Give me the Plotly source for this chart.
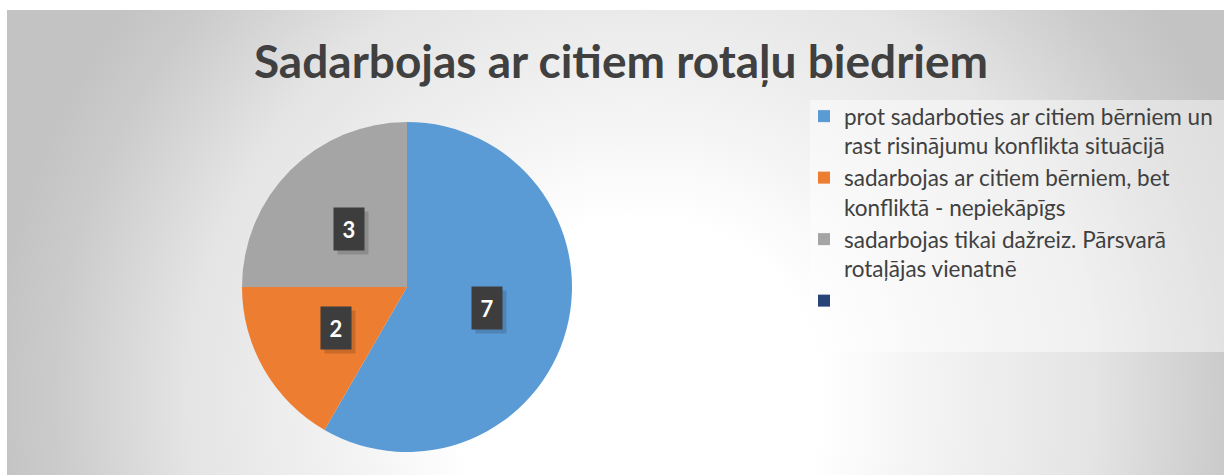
import math
import plotly.graph_objects as go

# data
categories = [
    "prot sadarboties ar citiem bērniem un<br>rast risinājumu konflikta situācijā",
    "sadarbojas ar citiem bērniem, bet<br>konfliktā - nepiekāpīgs",
    "sadarbojas tikai dažreiz. Pārsvarā<br>rotaļājas vienatnē",
    " ",
]
counts = [7, 2, 3, 0]
value_labels = ["7", "2", "3", ""]
colors = ["#5B9BD5", "#ED7D31", "#A5A5A5", "#264478"]

W, H = 1224, 475
FONT = "Lato"
TXT = "#404040"

# pie geometry (pixels)
cx, cy, R = 407, 287, 165

fig = go.Figure()

# radial gradient background of the chart area (centre low and right of middle)
gx, gy, gr = 640, 400, 650
fig.add_trace(go.Scatter(
    x=[gx - gr, gx + gr, gx + gr, gx - gr, gx - gr],
    y=[gy - gr, gy - gr, gy + gr, gy + gr, gy - gr],
    mode="lines", fill="toself", line=dict(width=0),
    fillgradient=dict(type="radial", colorscale=[
        [0, "#ffffff"], [0.28, "#ffffff"], [0.45, "#f3f3f3"],
        [0.7, "#e4e4e4"], [0.9, "#cbcbcb"], [1, "#c3c3c3"]]),
    hoverinfo="skip", showlegend=False,
))

fig.add_trace(go.Pie(
    labels=categories,
    values=counts,
    sort=False, direction="clockwise", rotation=0,
    marker=dict(colors=colors, line=dict(width=0)),
    textinfo="none",
    domain=dict(x=[(cx - R) / W, (cx + R) / W], y=[1 - (cy + R) / H, 1 - (cy - R) / H]),
))

# data labels in dark boxes, placed at half radius on each slice's mid angle
total = sum(counts)
cum = 0
for v, lab in zip(counts, value_labels):
    mid = (cum + v / 2) / total * 2 * math.pi
    cum += v
    if not lab:
        continue
    lx = cx + 0.5 * R * math.sin(mid)
    ly = cy - 0.5 * R * math.cos(mid)
    fig.add_annotation(x=lx + 4, y=ly + 4, xref="x", yref="y", text=" ", showarrow=False,
                       width=24, height=36, borderpad=3, bgcolor="rgba(0,0,0,0.15)")
    fig.add_annotation(x=lx, y=ly, xref="x", yref="y", text="<b>%s</b>" % lab, showarrow=False,
                       font=dict(family=FONT, size=22, color="white"),
                       width=24, height=36, borderpad=3, bgcolor="#3d3d3d")

# legend panel
fig.add_shape(type="rect", xref="x", yref="y", x0=810, y0=100, x1=1230, y1=352,
              fillcolor="rgba(255,255,255,0.45)", line=dict(width=0), layer="above")

fig.update_layout(
    width=W, height=H,
    margin=dict(l=0, r=0, t=0, b=0, pad=0),
    paper_bgcolor="white", plot_bgcolor="rgba(0,0,0,0)",
    xaxis=dict(visible=False, range=[7, W], domain=[7 / W, 1], fixedrange=True),
    yaxis=dict(visible=False, range=[H, 10], domain=[0, 1 - 10 / H], fixedrange=True),
    title=dict(text="<b>Sadarbojas ar citiem rotaļu biedriem</b>",
               font=dict(family=FONT, size=46, color=TXT),
               x=621 / W, y=1 - 62 / H, xanchor="center", yanchor="middle",
               xref="paper", yref="paper"),
    legend=dict(x=804 / W, y=1 - 95 / H, xanchor="left", yanchor="top",
                font=dict(family=FONT, size=22.5, color=TXT),
                bgcolor="rgba(0,0,0,0)", valign="top", traceorder="normal"),
    showlegend=True,
)

fig.write_html("out.html", config={"displayModeBar": False},
               post_script="document.body.style.margin='0';")
